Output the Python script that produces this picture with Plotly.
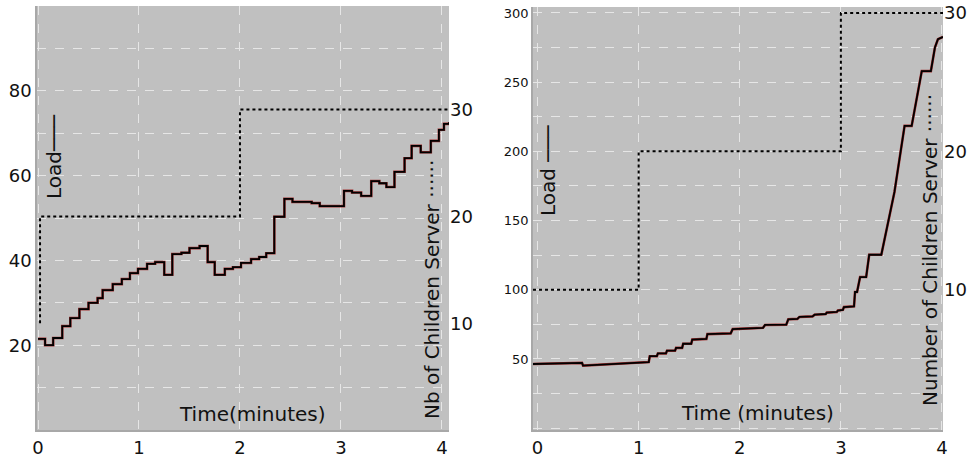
import plotly.graph_objects as go

# ---------------- data ----------------
# Left panel: load (steps) and number of children servers
left_time = [0, 0.07, 0.15, 0.24, 0.32, 0.41, 0.50, 0.59, 0.64, 0.74, 0.83, 0.91, 0.99,
             1.08, 1.16, 1.25, 1.33, 1.42, 1.50, 1.60, 1.68, 1.75, 1.85, 1.93, 2.01,
             2.11, 2.19, 2.26, 2.34, 2.44, 2.52, 2.71, 2.79, 3.03, 3.11, 3.20, 3.30,
             3.38, 3.45, 3.53, 3.63, 3.70, 3.79, 3.89, 3.97, 4.02, 4.07]
left_load = [21.5, 20, 21.7, 24.5, 26.4, 28.5, 30, 31.1, 33, 34.4, 35.6, 37, 38,
             39.2, 39.6, 36.6, 41.5, 41.8, 42.9, 43.4, 39.6, 36.6, 38, 38.4, 39.4,
             40.3, 40.8, 41.7, 50.3, 54.5, 53.8, 53.5, 52.8, 56.4, 56, 55.2, 58.7,
             58.2, 57.3, 60.9, 64.1, 67, 65.5, 68.2, 70.8, 72.2, 72.6]
left_srv_time = [0.02, 0.02, 2, 4.07]
left_servers = [10, 20, 30, 30]

# Right panel
right_time = [-0.045, 0.44, 0.45, 1.08, 1.10, 1.11, 1.18, 1.19, 1.27, 1.28, 1.36, 1.37,
              1.43, 1.44, 1.52, 1.53, 1.67, 1.68, 1.91, 1.93, 2.23, 2.25, 2.46, 2.48,
              2.57, 2.59, 2.72, 2.74, 2.85, 2.86, 2.96, 2.97, 3.02, 3.03, 3.13, 3.14,
              3.16, 3.19, 3.25, 3.28, 3.40, 3.53, 3.58, 3.63, 3.70, 3.80, 3.89, 3.93,
              3.96, 4.01]
right_load = [46.4, 47.2, 45.2, 47.6, 47.8, 52, 52, 54, 54, 56, 56, 58,
              58, 61, 61, 64, 64.5, 68, 68.5, 71.6, 72.5, 74.6, 74.8, 78.7,
              79, 80.4, 80.8, 82, 82.5, 83.5, 84, 85, 85.5, 87.5, 88, 98.4,
              98.4, 109.2, 109.2, 125.3, 125.3, 170.7, 193.9, 218.4, 218.4, 258, 258, 275,
              281, 282.7]
right_srv_time = [-0.045, 1, 3, 4.01]
right_servers = [10, 20, 30, 30]

x_ticks = [0, 1, 2, 3, 4]
left_y_tickvals = [0, 10, 20, 30, 40, 50, 60, 70, 80, 90, 100]
left_y_ticktext = ["", "", "20", "", "40", "", "60", "", "80", "", ""]
left_y2_ticks = [10, 20, 30]
right_y_tickvals = [0, 25, 50, 75, 100, 125, 150, 175, 200, 225, 250, 275, 300]
right_y_ticktext = ["", "", "50", "", "100", "", "150", "", "200", "", "250", "", "300"]
right_y2_ticks = [10, 20, 30]

# ---------------- figure ----------------
FONT = "DejaVu Sans"
BG = "#c0c0c0"
GRID = "#e6e6e6"

fig = go.Figure()

# left panel load: red fringe + black line
fig.add_trace(go.Scatter(x=left_time, y=left_load, mode="lines", line=dict(shape="hv", color="#a03030", width=2.6),
                         xaxis="x", yaxis="y", hoverinfo="skip"))
fig.add_trace(go.Scatter(x=left_time, y=left_load, mode="lines", line=dict(shape="hv", color="black", width=1.8),
                         xaxis="x", yaxis="y"))
fig.add_trace(go.Scatter(x=left_srv_time, y=left_servers, mode="lines",
                         line=dict(shape="hv", color="black", width=2, dash="dot"),
                         xaxis="x", yaxis="y2"))

# right panel
fig.add_trace(go.Scatter(x=right_time, y=right_load, mode="lines", line=dict(color="#a03030", width=2.6),
                         xaxis="x2", yaxis="y3", hoverinfo="skip"))
fig.add_trace(go.Scatter(x=right_time, y=right_load, mode="lines", line=dict(color="black", width=1.8),
                         xaxis="x2", yaxis="y3"))
fig.add_trace(go.Scatter(x=right_srv_time, y=right_servers, mode="lines",
                         line=dict(shape="hv", color="black", width=2, dash="dot"),
                         xaxis="x2", yaxis="y4"))

W, H = 972, 459
def px(x): return x / W
def py(y): return 1 - y / H

axis_common = dict(showgrid=True, gridcolor=GRID, griddash="dash", gridwidth=1,
                   zeroline=False, showline=True, linecolor="#a8a8a8", linewidth=1.5,
                   ticks="", automargin=False,
                   tickfont=dict(size=18, family=FONT, color="#111"))

fig.update_layout(
    width=W, height=H,
    margin=dict(l=0, r=0, t=0, b=0),
    paper_bgcolor="white",
    plot_bgcolor=BG,
    showlegend=False,
    font=dict(family=FONT, color="#111"),
    xaxis=dict(domain=[px(37), px(449)], range=[-0.01, 4.07], tickvals=x_ticks,
               anchor="y", ticklabelstandoff=1, **axis_common),
    yaxis=dict(domain=[py(430), py(6)], range=[0, 100], tickvals=left_y_tickvals,
               ticktext=left_y_ticktext, anchor="x", **axis_common),
    yaxis2=dict(overlaying="y", side="right", anchor="x", range=[0, 39.7], tickvals=left_y2_ticks,
                showgrid=False, zeroline=False, showline=False, ticks="", automargin=False,
                tickfont=dict(size=18, family=FONT, color="#111")),
    xaxis2=dict(domain=[px(533), px(943)], range=[-0.045, 4.01], tickvals=x_ticks,
                anchor="y3", ticklabelstandoff=1, **axis_common),
    yaxis3=dict(domain=[py(430), py(7)], range=[-1.3, 304.3], tickvals=right_y_tickvals,
                ticktext=right_y_ticktext, anchor="x2",
                **{**axis_common, "tickfont": dict(size=13, family=FONT, color="#111")}),
    yaxis4=dict(overlaying="y3", side="right", anchor="x2", range=[-0.13, 30.43], tickvals=right_y2_ticks,
                showgrid=False, zeroline=False, showline=False, ticks="", automargin=False,
                tickfont=dict(size=18, family=FONT, color="#111")),
)

ann_font_v = dict(size=20, family=FONT, color="#111")
ann_font_h = dict(size=20, family=FONT, color="#111")
annotations = [
    dict(text="Load───", x=px(54), y=py(157), textangle=-90, font=ann_font_v),
    dict(text="Nb of Children Server ······", x=px(432), y=py(290), textangle=-90, font=ann_font_v),
    dict(text="Time(minutes)", x=px(252), y=py(414), font=ann_font_h),
    dict(text="Load ───", x=px(548), y=py(171), textangle=-90, font=ann_font_v),
    dict(text="Number of Children Server ······", x=px(930), y=py(250), textangle=-90, font=ann_font_v),
    dict(text="Time (minutes)", x=px(757), y=py(413), font=ann_font_h),
]
for a in annotations:
    a.update(xref="paper", yref="paper", showarrow=False, xanchor="center", yanchor="middle")
fig.update_layout(annotations=annotations)

fig.write_html("out.html", config={"displayModeBar": False},
               post_script="document.body.style.margin='0';document.body.style.overflow='hidden';")
